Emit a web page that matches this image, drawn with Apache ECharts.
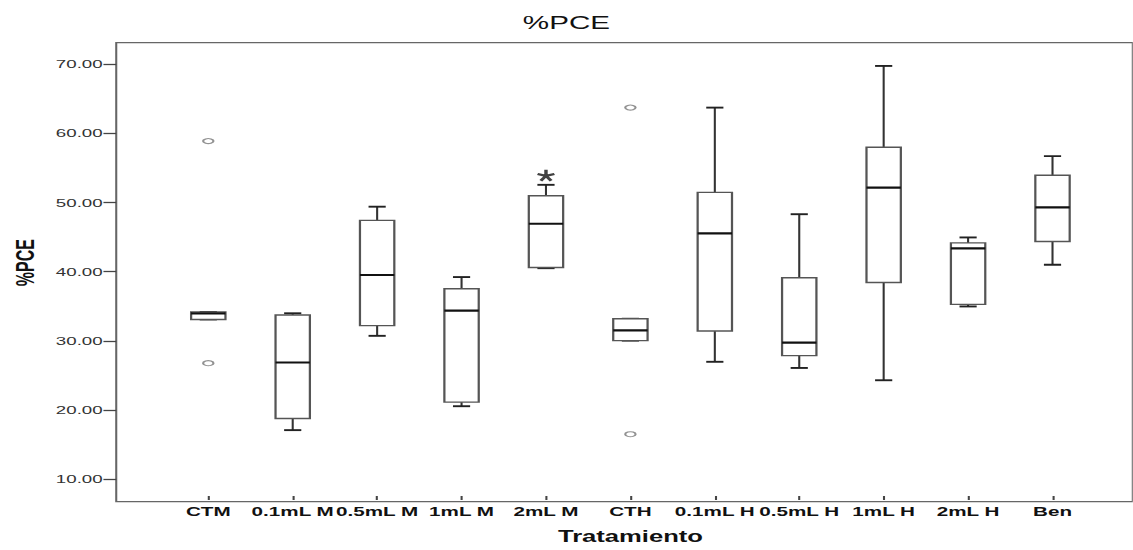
<!DOCTYPE html>
<html>
<head>
<meta charset="utf-8">
<script src="https://cdn.jsdelivr.net/npm/echarts@6/dist/echarts.min.js"></script>
<style>
  html, body { margin: 0; padding: 0; background: #fff; overflow: hidden; }
  #wrap { width: 1133px; height: 550px; overflow: hidden; position: relative; }
  #chart { width: 708px; height: 550px; transform: scaleX(1.6); transform-origin: 0 0; }
</style>
</head>
<body>
<div id="wrap"><div id="chart"></div></div>
<script>
// ---- data ----
var categories = ['CTM', '0.1mL M', '0.5mL M', '1mL M', '2mL M', 'CTH', '0.1mL H', '0.5mL H', '1mL H', '2mL H', 'Ben'];
var minVals    = [32.6, 16.4, 30.2, 19.9, 40.1, 29.5, 26.4, 25.5, 23.7, 34.5, 40.6];
var q1Vals     = [32.6, 18.1, 31.7, 20.5, 40.2, 29.5, 30.9, 27.3, 38.0, 34.8, 44.0];
var medianVals = [33.5, 26.3, 39.1, 33.9, 46.6, 31.0, 45.2, 29.2, 51.9, 43.0, 49.0];
var q3Vals     = [33.7, 33.25, 47.1, 37.1, 50.7, 32.7, 51.2, 38.7, 57.8, 43.8, 53.7];
var maxVals    = [33.7, 33.5, 49.1, 38.8, 52.3, 32.7, 63.6, 48.0, 69.7, 44.6, 56.5];
var outlierCats = ['CTM', 'CTM', 'CTH', 'CTH'];
var outlierVals = [58.7, 26.2, 63.6, 15.8];
var extremeCats = ['2mL M'];
var extremeVals = [53.7];
var yTicks = [10, 20, 30, 40, 50, 60, 70];
var yMin = 6.76, yMax = 73.1;

var boxData = categories.map(function (c, i) {
  return [c, minVals[i], q1Vals[i], medianVals[i], q3Vals[i], maxVals[i]];
});
var outlierData = outlierCats.map(function (c, i) { return [c, outlierVals[i]]; });
var extremeData = extremeCats.map(function (c, i) { return [c, extremeVals[i]]; });

var FONT = '"Liberation Sans", Arial, sans-serif';
var chart = echarts.init(document.getElementById('chart'), null, { renderer: 'svg' });

var option = {
  animation: false,
  backgroundColor: '#fff',
  title: {
    text: '%PCE', left: 'center', top: 13, padding: 0,
    textStyle: { fontFamily: FONT, fontSize: 18.5, fontWeight: 'normal', color: '#111' }
  },
  grid: [
    { left: 103.8, right: 23.8, top: 42.7, bottom: 48.3, show: false },
    { left: 71.25, right: -20, top: 42.7, bottom: 48.3, show: true,
      borderColor: '#666', borderWidth: 1.3, backgroundColor: 'transparent' }
  ],
  xAxis: [
    {
      type: 'category', gridIndex: 0, data: categories, boundaryGap: true,
      axisLine: { show: false },
      axisTick: { show: true, alignWithLabel: true, length: 4, lineStyle: { color: '#444', width: 1.3 } },
      axisLabel: { interval: 0, margin: 9.3, fontFamily: FONT, fontSize: 12.9, fontWeight: 'bold', color: '#111' },
      name: 'Tratamiento', nameLocation: 'middle', nameGap: 33,
      nameTextStyle: { fontFamily: FONT, fontSize: 16, fontWeight: 'bold', color: '#111' },
      splitLine: { show: false }
    },
    { type: 'value', gridIndex: 1, show: false, min: 0, max: 1 }
  ],
  yAxis: [
    { type: 'value', gridIndex: 0, show: false, min: yMin, max: yMax, splitLine: { show: false } },
    {
      type: 'value', gridIndex: 1, min: yMin, max: yMax,
      axisLine: { show: false },
      axisTick: { show: true, length: 8, customValues: yTicks, lineStyle: { color: '#444', width: 1.3 } },
      axisLabel: {
        customValues: yTicks, margin: 8.5, fontFamily: FONT, fontSize: 11.7, color: '#333',
        formatter: function (v) { return v.toFixed(2); }
      },
      splitLine: { show: false },
      name: '%PCE', nameLocation: 'middle', nameGap: 48,
      nameTextStyle: { fontFamily: FONT, fontSize: 16, fontWeight: 'bold', color: '#111', padding: [0, 0, 0, 19] }
    }
  ],
  series: [
    {
      type: 'custom', xAxisIndex: 0, yAxisIndex: 0,
      data: boxData,
      encode: { x: 0, y: [1, 2, 3, 4, 5] },
      renderItem: function (params, api) {
        var x = api.value(0);
        var pMin = api.coord([x, api.value(1)]);
        var pQ1 = api.coord([x, api.value(2)]);
        var pMed = api.coord([x, api.value(3)]);
        var pQ3 = api.coord([x, api.value(4)]);
        var pMax = api.coord([x, api.value(5)]);
        var band = api.size([1, 0])[0];
        var bw = band * 0.407;
        var cw = bw * 0.5;
        var cx = pMed[0];
        var wStyle = { stroke: '#333', lineWidth: 1.3 };
        var cStyle = { stroke: '#222', lineWidth: 1.9 };
        return {
          type: 'group',
          children: [
            { type: 'line', shape: { x1: cx, y1: pQ3[1], x2: cx, y2: pMax[1] }, style: wStyle },
            { type: 'line', shape: { x1: cx, y1: pQ1[1], x2: cx, y2: pMin[1] }, style: wStyle },
            { type: 'line', shape: { x1: cx - cw / 2, y1: pMax[1], x2: cx + cw / 2, y2: pMax[1] }, style: cStyle },
            { type: 'line', shape: { x1: cx - cw / 2, y1: pMin[1], x2: cx + cw / 2, y2: pMin[1] }, style: cStyle },
            { type: 'rect', shape: { x: cx - bw / 2, y: pQ3[1], width: bw, height: pQ1[1] - pQ3[1] },
              style: { fill: '#fff', stroke: '#555', lineWidth: 1.4 } },
            { type: 'line', shape: { x1: cx - bw / 2, y1: pMed[1], x2: cx + bw / 2, y2: pMed[1] },
              style: { stroke: '#111', lineWidth: 2.2 } }
          ]
        };
      }
    },
    {
      type: 'scatter', xAxisIndex: 0, yAxisIndex: 0,
      data: outlierData, symbol: 'circle', symbolSize: [6.5, 5],
      itemStyle: { color: '#fff', borderColor: '#777', borderWidth: 1.2 }
    },
    {
      type: 'scatter', xAxisIndex: 0, yAxisIndex: 0,
      data: extremeData,
      symbol: 'path://M5,5L5,0M5,5L9.76,3.45M5,5L7.94,9.05M5,5L2.06,9.05M5,5L0.24,3.45',
      symbolSize: [10.5, 11],
      itemStyle: { color: 'transparent', borderColor: '#111', borderWidth: 2.2 }
    }
  ]
};
chart.setOption(option);
</script>
</body>
</html>
